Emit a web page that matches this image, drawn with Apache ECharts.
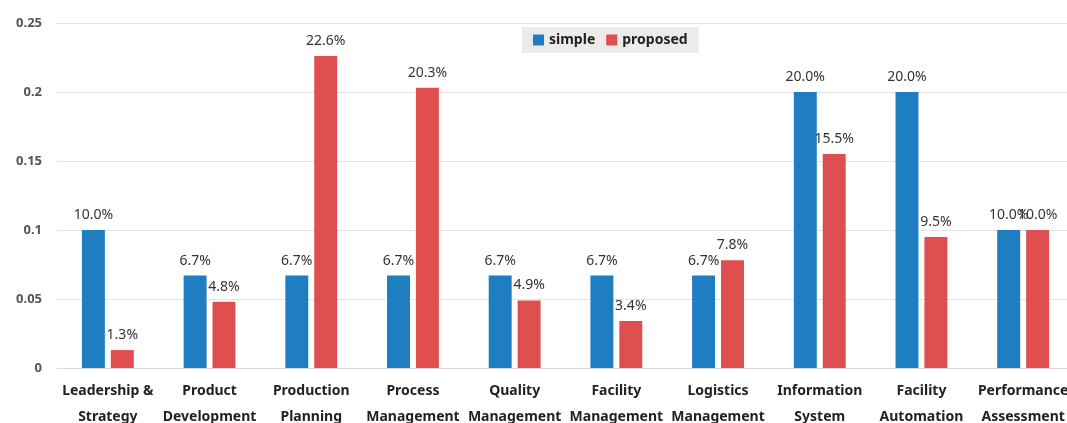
<!DOCTYPE html>
<html><head><meta charset="utf-8">
<script src="https://cdn.jsdelivr.net/npm/echarts@6/dist/echarts.min.js"></script>
<style>html,body{margin:0;padding:0;background:#fff}#c{width:1067px;height:423px}</style>
</head><body><div id="c"></div>
<script>
const categories = ['Leadership &\nStrategy','Product\nDevelopment','Production\nPlanning','Process\nManagement','Quality\nManagement','Facility\nManagement','Logistics\nManagement','Information\nSystem','Facility\nAutomation','Performance\nAssessment'];
const simpleValues = [0.1, 0.067, 0.067, 0.067, 0.067, 0.067, 0.067, 0.2, 0.2, 0.1];
const proposedValues = [0.013, 0.048, 0.226, 0.203, 0.049, 0.034, 0.078, 0.155, 0.095, 0.1];
const seriesNames = ['simple','proposed'];

const font = 'Noto Sans';
const chart = echarts.init(document.getElementById('c'));
const labelCfg = {show:true, position:'top', distance:8, color:'#333', fontFamily:font, fontSize:14,
  formatter: p => (p.value*100).toFixed(1)+'%'};
chart.setOption({
  animation:false,
  textStyle:{fontFamily:font},
  legend:{top:27, left:522, itemWidth:11, itemHeight:11, itemGap:11, padding:[6,11,6,11],
    backgroundColor:'#ebebeb', icon:'rect',
    textStyle:{fontWeight:'bold', fontSize:14, color:'#222', fontFamily:font}},
  grid:{left:57, right:-7, top:23, bottom:55, outerBoundsMode:'none', containLabel:false},
  xAxis:{type:'category', data:categories,
    axisLine:{lineStyle:{color:'#d9d9d9'}}, axisTick:{show:false},
    axisLabel:{interval:0, fontWeight:'bold', fontSize:14, color:'#222', lineHeight:26, margin:10, fontFamily:font}},
  yAxis:{type:'value', min:0, max:0.25, interval:0.05,
    axisLabel:{fontWeight:'bold', fontSize:13, color:'#555', margin:15, fontFamily:font},
    splitLine:{lineStyle:{color:'#e3e3e3'}}},
  series:[
    {name:seriesNames[0], type:'bar', data:simpleValues, itemStyle:{color:'#1f7dc1'}, barGap:'26%', barCategoryGap:'49%', label:labelCfg},
    {name:seriesNames[1], type:'bar', data:proposedValues, itemStyle:{color:'#e04f4f'}, label:labelCfg}
  ]
});
</script></body></html>
